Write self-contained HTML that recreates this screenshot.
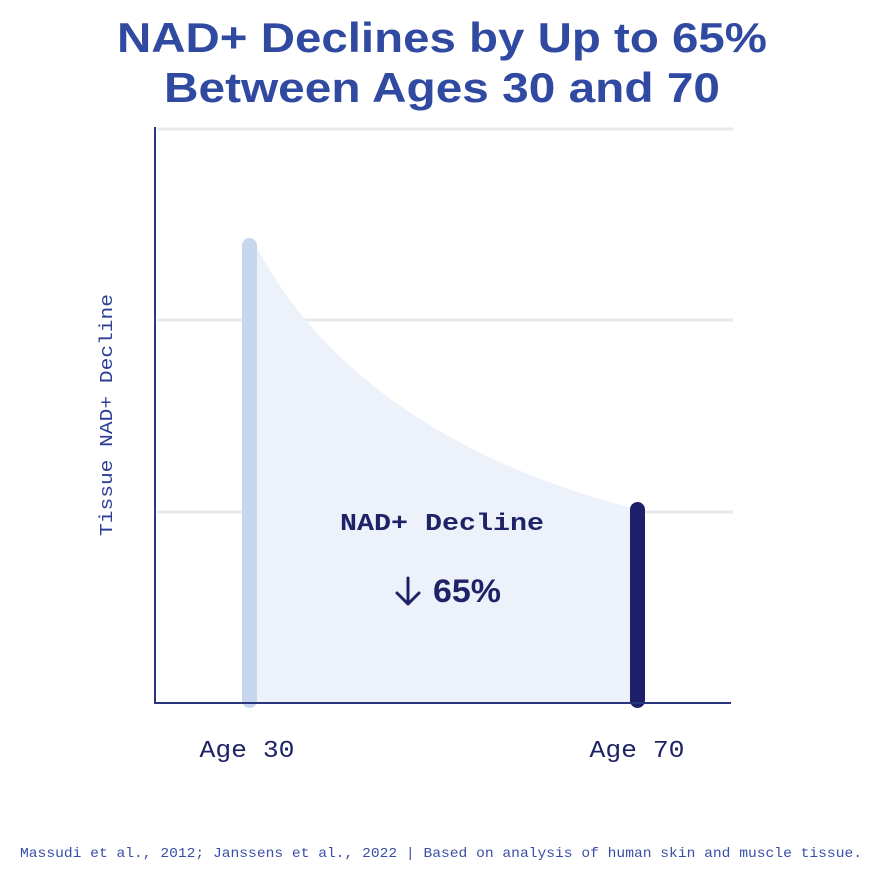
<!DOCTYPE html>
<html><head><meta charset="utf-8"><style>
html,body{margin:0;padding:0;background:#fff;}
svg{display:block;}
</style></head><body>
<svg width="872" height="872" viewBox="0 0 872 872" xmlns="http://www.w3.org/2000/svg">
<rect width="872" height="872" fill="#fff"/>
<text x="442" y="52" text-anchor="middle" font-family="Liberation Sans, sans-serif" font-weight="bold" font-size="42" fill="#2f4aa0" textLength="650" lengthAdjust="spacingAndGlyphs">NAD+ Declines by Up to 65%</text>
<text x="442" y="102" text-anchor="middle" font-family="Liberation Sans, sans-serif" font-weight="bold" font-size="42" fill="#2f4aa0" textLength="556" lengthAdjust="spacingAndGlyphs">Between Ages 30 and 70</text>
<g stroke="#e9e9ee" stroke-width="3">
<line x1="157" y1="129" x2="733" y2="129"/>
<line x1="157" y1="320" x2="733" y2="320"/>
<line x1="157" y1="512" x2="733" y2="512"/>
</g>
<path d="M256 246 C285 300 370 440 632 508 L632 703 L256 703 Z" fill="#edf1f9"/>
<rect x="242" y="238" width="15" height="470" rx="7.5" fill="#c6d6ed"/>
<rect x="630" y="502" width="15" height="206" rx="7.5" fill="#1e1f6b"/>
<line x1="155" y1="127" x2="155" y2="704" stroke="#2a3580" stroke-width="2"/>
<line x1="154" y1="703" x2="731" y2="703" stroke="#2a3580" stroke-width="2"/>
<text x="442" y="530" text-anchor="middle" font-family="Liberation Mono, monospace" font-weight="bold" font-size="24" fill="#1e2266" textLength="204" lengthAdjust="spacingAndGlyphs">NAD+ Decline</text>
<path d="M408 578 L408 604 M397 593 L408 604 L419 593" fill="none" stroke="#1e2266" stroke-width="3" stroke-linecap="round" stroke-linejoin="round"/>
<text x="433" y="602" font-family="Liberation Sans, sans-serif" font-weight="bold" font-size="32" fill="#1e2266" textLength="68" lengthAdjust="spacingAndGlyphs">65%</text>
<text transform="translate(112,415) rotate(-90)" text-anchor="middle" font-family="Liberation Mono, monospace" font-size="18" fill="#2d3f96" textLength="242" lengthAdjust="spacingAndGlyphs">Tissue NAD+ Decline</text>
<text x="247" y="757" text-anchor="middle" font-family="Liberation Mono, monospace" font-size="24" fill="#1e2266" textLength="95" lengthAdjust="spacingAndGlyphs">Age 30</text>
<text x="637" y="757" text-anchor="middle" font-family="Liberation Mono, monospace" font-size="24" fill="#1e2266" textLength="95" lengthAdjust="spacingAndGlyphs">Age 70</text>
<text x="441" y="857" text-anchor="middle" font-family="Liberation Mono, monospace" font-size="14" fill="#3a4fa8" textLength="842" lengthAdjust="spacingAndGlyphs">Massudi et al., 2012; Janssens et al., 2022 | Based on analysis of human skin and muscle tissue.</text>
</svg>
</body></html>
